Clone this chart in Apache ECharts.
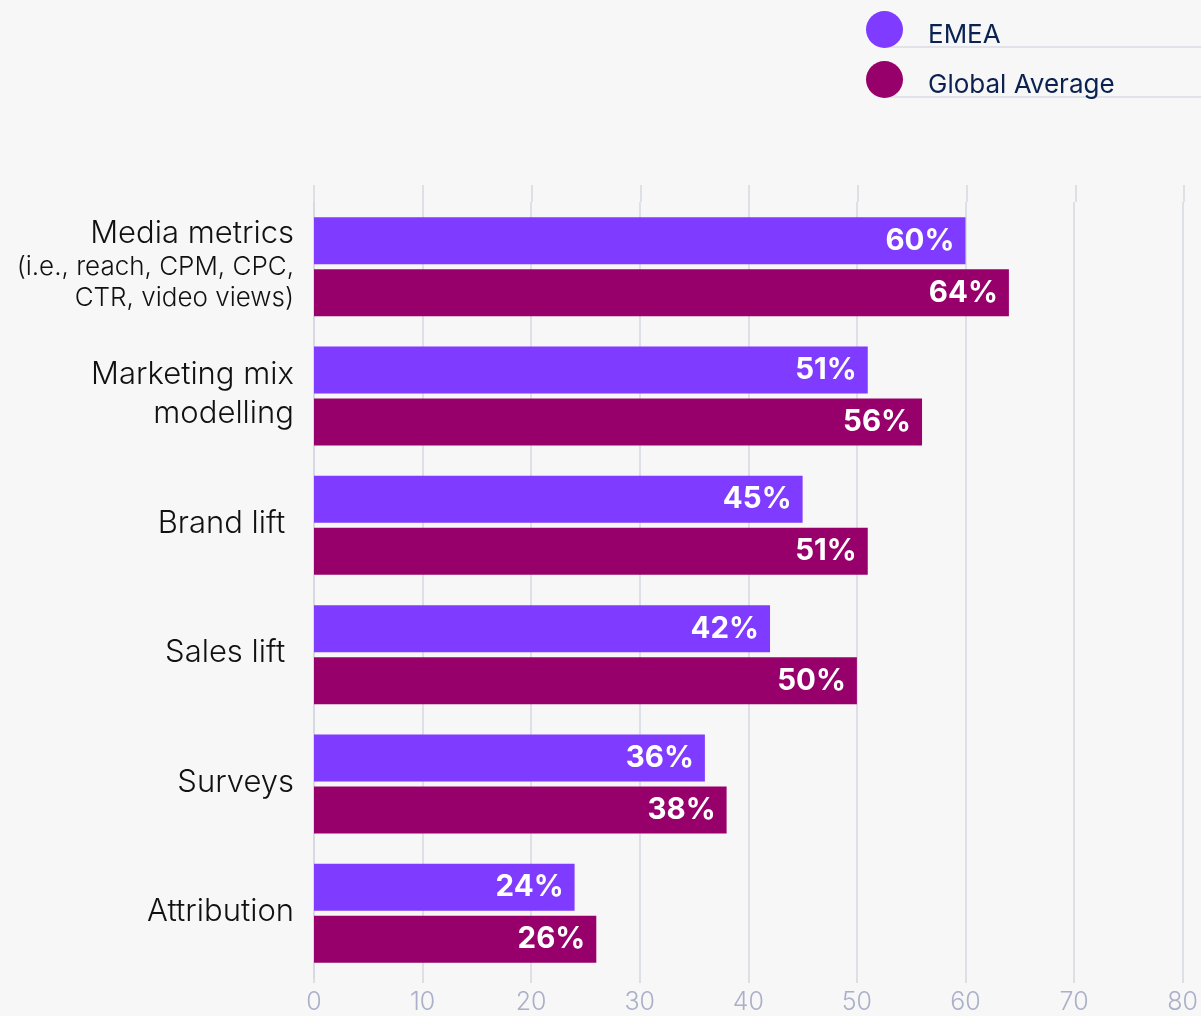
<!DOCTYPE html>
<html>
<head>
<meta charset="utf-8">
<script src="https://cdn.jsdelivr.net/npm/echarts@6/dist/echarts.min.js"></script>
<style>
html,body{margin:0;padding:0;background:#F7F7F7;}
#chart{width:1201px;height:1016px;}
</style>
</head>
<body>
<div id="chart"></div>
<script>
const categories = [
  '{a|Media metrics}\n{b|(i.e., reach, CPM, CPC,}\n{b|CTR, video views)}',
  'Marketing mix\nmodelling',
  'Brand lift ',
  'Sales lift ',
  'Surveys',
  'Attribution'
];
const seriesNames = ['EMEA', 'Global Average'];
const emeaValues = [60, 51, 45, 42, 36, 24];
const globalValues = [64, 56, 51, 50, 38, 26];
const xTicks = { min: 0, max: 80, interval: 10 };

const FONT = 'Inter, "Noto Sans", sans-serif';
const chart = echarts.init(document.getElementById('chart'), null, { renderer: 'canvas' });

const valueLabel = {
  show: true,
  position: 'insideRight',
  distance: 11,
  formatter: p => p.value + '%',
  color: '#FFFFFF',
  fontFamily: FONT,
  fontWeight: 'bold',
  fontSize: 29.5
};

chart.setOption({
  backgroundColor: '#F7F7F7',
  animation: false,
  legend: {
    orient: 'vertical',
    left: 861,
    top: 6,
    itemWidth: 37,
    itemHeight: 37,
    itemGap: 13,
    icon: 'circle',
    data: seriesNames,
    formatter: name => '{t|' + name + '}',
    textStyle: {
      fontFamily: FONT,
      fontSize: 26,
      color: '#0B2250',
      rich: {
        t: { fontFamily: FONT, fontSize: 26, color: '#0B2250', padding: [11, 0, 0, 20] }
      }
    }
  },
  graphic: [
    { type: 'line', shape: { x1: 884, y1: 47, x2: 1201, y2: 47 }, style: { stroke: '#E2E3EA', lineWidth: 2 } },
    { type: 'line', shape: { x1: 884, y1: 97, x2: 1201, y2: 97 }, style: { stroke: '#E2E3EA', lineWidth: 2 } }
  ],
  grid: [
    { left: 314, right: 17, top: 202, bottom: 38 },
    { left: 314, right: 17, top: 185, height: 17 }
  ],
  xAxis: [
    {
      gridIndex: 0,
      type: 'value',
      min: xTicks.min, max: xTicks.max, interval: xTicks.interval,
      axisLine: { show: false },
      axisTick: { show: true, length: 5, lineStyle: { color: '#D5D8E2', width: 1.5 } },
      splitLine: { show: true, lineStyle: { color: '#D5D8E2', width: 1.5 } },
      axisLabel: { color: '#A9B0C8', fontFamily: FONT, fontWeight: 300, fontSize: 25, margin: 12 }
    },
    {
      gridIndex: 1,
      type: 'value',
      min: xTicks.min, max: xTicks.max, interval: xTicks.interval,
      axisLine: { show: false },
      axisTick: { show: false },
      axisLabel: { show: false },
      splitLine: { show: true, lineStyle: { color: '#D5D8E2', width: 1.5 } }
    }
  ],
  yAxis: [
    {
      gridIndex: 0,
      type: 'category',
      data: categories,
      inverse: true,
      axisLine: { show: true, lineStyle: { color: '#D5D8E2', width: 1.5 } },
      axisTick: { show: false },
      axisLabel: {
        margin: 20,
        color: '#111111',
        fontFamily: FONT,
        fontWeight: 300,
        fontSize: 31,
        lineHeight: 39,
        align: 'right',
        padding: [0, 0, 3, 0],
        rich: {
          a: { fontFamily: FONT, fontWeight: 300, fontSize: 31, color: '#111111', lineHeight: 35, align: 'right' },
          b: { fontFamily: FONT, fontWeight: 300, fontSize: 26, color: '#111111', lineHeight: 31, align: 'right' }
        }
      }
    },
    {
      gridIndex: 1,
      type: 'category',
      data: [''],
      axisLine: { show: false },
      axisTick: { show: false },
      axisLabel: { show: false }
    }
  ],
  series: [
    {
      name: seriesNames[0],
      type: 'bar',
      xAxisIndex: 0, yAxisIndex: 0,
      data: emeaValues,
      barWidth: 47,
      barGap: '10.6%',
      itemStyle: { color: '#7F3BFF' },
      label: valueLabel
    },
    {
      name: seriesNames[1],
      type: 'bar',
      xAxisIndex: 0, yAxisIndex: 0,
      data: globalValues,
      barWidth: 47,
      barGap: '10.6%',
      itemStyle: { color: '#97006B' },
      label: valueLabel
    }
  ]
});
</script>
</body>
</html>
